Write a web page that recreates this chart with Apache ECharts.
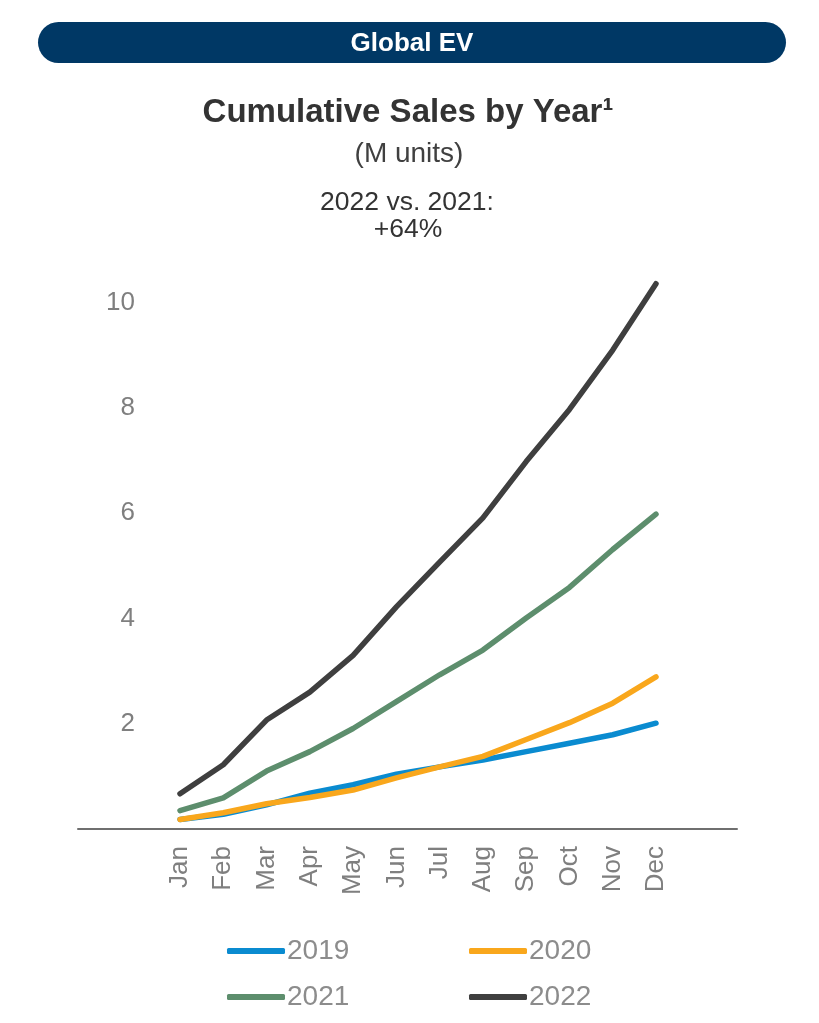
<!DOCTYPE html>
<html>
<head>
<meta charset="utf-8">
<script src="https://cdn.jsdelivr.net/npm/echarts@6/dist/echarts.min.js"></script>
<style>
html,body{margin:0;padding:0;background:#fff;}
#chart{width:819px;height:1023px;}
</style>
</head>
<body>
<div id="chart"></div>
<script>
var months = ['Jan','Feb','Mar','Apr','May','Jun','Jul','Aug','Sep','Oct','Nov','Dec'];
var yTicks = [2, 4, 6, 8, 10];
var s2019 = [0.18, 0.28, 0.46, 0.68, 0.84, 1.04, 1.18, 1.31, 1.47, 1.63, 1.79, 2.01];
var s2020 = [0.18, 0.31, 0.48, 0.60, 0.74, 0.97, 1.18, 1.38, 1.70, 2.02, 2.39, 2.89];
var s2021 = [0.35, 0.59, 1.10, 1.47, 1.91, 2.42, 2.93, 3.40, 4.01, 4.59, 5.31, 5.98];
var s2022 = [0.67, 1.22, 2.07, 2.60, 3.30, 4.22, 5.07, 5.91, 6.98, 7.97, 9.10, 10.36];
var seriesNames = ['2019', '2020', '2021', '2022'];
var colors = ['#0a8bd0', '#f9a71c', '#5d8e6d', '#3f3f3f'];

var chart = echarts.init(document.getElementById('chart'), null, {renderer: 'canvas'});
var font = '"Liberation Sans", Arial, sans-serif';
var data = [s2019, s2020, s2021, s2022];

var option = {
  animation: false,
  textStyle: {fontFamily: font},
  graphic: [
    {type: 'rect', shape: {x: 38, y: 22, width: 748, height: 41, r: 20.5}, style: {fill: '#003865'}},
    {type: 'text', x: 412, y: 44, style: {text: 'Global EV', font: 'bold 26px ' + font, fill: '#ffffff', align: 'center', verticalAlign: 'middle'}},
    {type: 'text', x: 408, y: 113, style: {text: 'Cumulative Sales by Year\u00b9', font: 'bold 33px ' + font, fill: '#333333', align: 'center', verticalAlign: 'middle'}},
    {type: 'text', x: 409, y: 154, style: {text: '(M units)', font: '28px ' + font, fill: '#404040', align: 'center', verticalAlign: 'middle'}},
    {type: 'text', x: 407, y: 203, style: {text: '2022 vs. 2021:', font: '26.5px ' + font, fill: '#333333', align: 'center', verticalAlign: 'middle'}},
    {type: 'text', x: 408, y: 230, style: {text: '+64%', font: '26.5px ' + font, fill: '#333333', align: 'center', verticalAlign: 'middle'}}
  ],
  grid: [
    {left: 180, right: 163, top: 250, bottom: 194, containLabel: false},
    {left: 78, right: 82, top: 250, bottom: 194, containLabel: false}
  ],
  xAxis: [
    {
      type: 'category', data: months, gridIndex: 0, boundaryGap: false,
      axisLine: {show: false}, axisTick: {show: false},
      axisLabel: {rotate: 90, margin: 17, fontSize: 26, color: '#7f7f7f', fontFamily: font}
    },
    {
      type: 'value', gridIndex: 1, min: 0, max: 1,
      axisLine: {show: true, lineStyle: {color: '#6f6f6f', width: 2}},
      axisTick: {show: false}, axisLabel: {show: false}, splitLine: {show: false}
    }
  ],
  yAxis: [
    {
      type: 'value', gridIndex: 0, min: 0, max: 11, interval: 2,
      axisLine: {show: false}, axisTick: {show: false}, splitLine: {show: false},
      axisLabel: {
        margin: 45, fontSize: 26, color: '#7f7f7f', fontFamily: font,
        formatter: function (v) { return yTicks.indexOf(v) >= 0 ? String(v) : ''; }
      }
    },
    {
      type: 'value', gridIndex: 1, min: 0, max: 1, show: false
    }
  ],
  legend: [
    {
      data: [seriesNames[0], seriesNames[2]], orient: 'vertical', left: 222, top: 932,
      itemGap: 18, itemWidth: 58, itemHeight: 6, icon: 'roundRect',
      textStyle: {fontSize: 28, color: '#8c8c8c', fontFamily: font, padding: [0, 0, 0, -3]}
    },
    {
      data: [seriesNames[1], seriesNames[3]], orient: 'vertical', left: 464, top: 932,
      itemGap: 18, itemWidth: 58, itemHeight: 6, icon: 'roundRect',
      textStyle: {fontSize: 28, color: '#8c8c8c', fontFamily: font, padding: [0, 0, 0, -3]}
    }
  ],
  series: seriesNames.map(function (name, i) {
    return {
      name: name, type: 'line', xAxisIndex: 0, yAxisIndex: 0,
      data: data[i], symbol: 'none', smooth: false,
      lineStyle: {color: colors[i], width: 5.5, cap: 'round', join: 'round'},
      itemStyle: {color: colors[i]}
    };
  })
};
chart.setOption(option);
</script>
</body>
</html>
